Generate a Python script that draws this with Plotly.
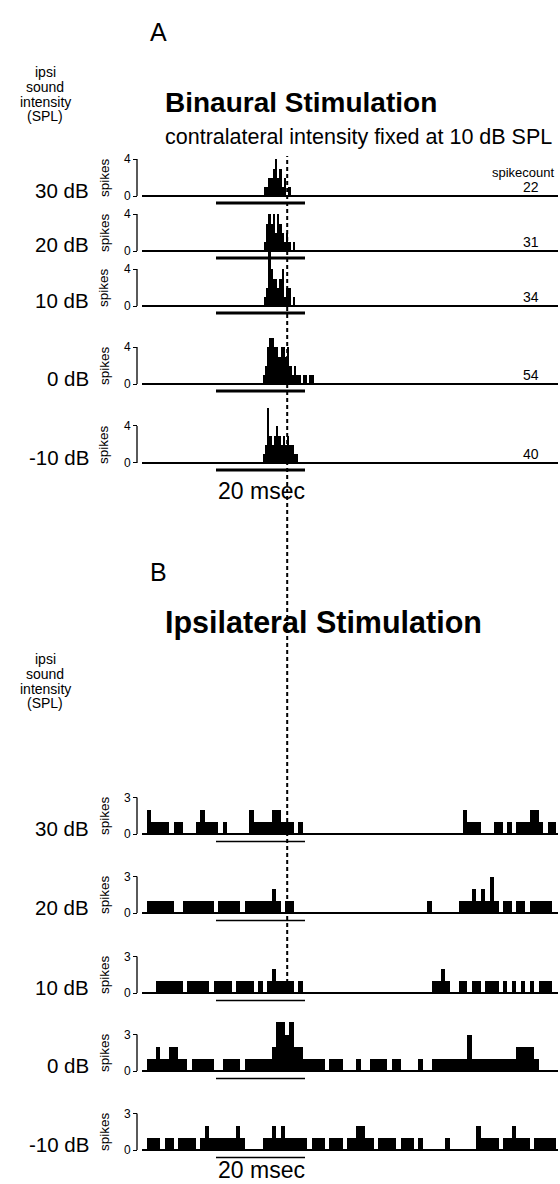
import plotly.graph_objects as go

# ---------------- data ----------------
# Panel A: binaural stimulation, PSTH with 0.5 ms bins
A_LEVELS = ["30 dB", "20 dB", "10 dB", "0 dB", "-10 dB"]
A_SPIKECOUNTS = [22, 31, 34, 54, 40]
A_BIN_MS = 0.5
A_FIRST_BIN_MS = [10.75, 10.75, 10.75, 10.5, 10.5]
A_30DB = [1, 1, 2, 2, 3, 4, 2, 3, 1, 2, 0, 1]
A_20DB = [1, 3, 4, 3, 4, 2, 4, 3, 2, 1, 2, 1, 0, 1]
A_10DB = [1, 2, 6, 4, 3, 3, 2, 3, 4, 1, 2, 2, 0, 1]
A_0DB = [1, 2, 4, 5, 5, 4, 4, 3, 4, 4, 3, 4, 2, 1, 2, 1, 1, 0, 1, 1, 0, 1, 1]
A_M10DB = [1, 2, 6, 3, 2, 3, 4, 3, 2, 3, 2, 3, 2, 2, 1, 1]
A_YTICKS = [0, 4]

# Panel B: ipsilateral stimulation, PSTH with 1 ms bins
B_LEVELS = ["30 dB", "20 dB", "10 dB", "0 dB", "-10 dB"]
B_BIN_MS = 1.0
B_FIRST_BIN_MS = -15.5
B_30DB = [2, 1, 1, 1, 1, 0, 1, 1, 0, 0,
          0, 1, 2, 1, 1, 1, 0, 1, 0, 0,
          0, 0, 0, 2, 1, 1, 1, 1, 2, 2,
          1, 1, 1, 0, 1, 0, 0, 0, 0, 0,
          0, 0, 0, 0, 0, 0, 0, 0, 0, 0,
          0, 0, 0, 0, 0, 0, 0, 0, 0, 0,
          0, 0, 0, 0, 0, 0, 0, 0, 0, 0,
          0, 2, 1, 1, 1, 0, 0, 0, 1, 1,
          0, 1, 0, 1, 1, 1, 2, 2, 1, 0,
          1, 1]
B_20DB = [1, 1, 1, 1, 1, 1, 0, 0, 1, 1,
          1, 1, 1, 1, 1, 0, 1, 1, 1, 1,
          1, 0, 1, 1, 1, 1, 1, 1, 2, 1,
          0, 1, 1, 0, 0, 0, 0, 0, 0, 0,
          0, 0, 0, 0, 0, 0, 0, 0, 0, 0,
          0, 0, 0, 0, 0, 0, 0, 0, 0, 0,
          0, 0, 0, 1, 0, 0, 0, 0, 0, 0,
          1, 1, 1, 2, 1, 2, 1, 3, 1, 0,
          1, 1, 0, 1, 1, 0, 1, 1, 1, 1,
          1, 0]
B_10DB = [0, 0, 1, 1, 1, 1, 1, 1, 0, 1,
          1, 1, 1, 1, 0, 1, 1, 1, 1, 0,
          1, 1, 1, 1, 0, 1, 0, 1, 2, 1,
          1, 1, 1, 0, 1, 0, 0, 0, 0, 0,
          0, 0, 0, 0, 0, 0, 0, 0, 0, 0,
          0, 0, 0, 0, 0, 0, 0, 0, 0, 0,
          0, 0, 0, 0, 1, 1, 2, 1, 0, 0,
          1, 1, 0, 1, 1, 0, 1, 1, 1, 0,
          1, 0, 1, 0, 1, 0, 1, 0, 1, 1,
          1, 0]
B_0DB = [1, 1, 2, 1, 1, 2, 2, 1, 1, 0,
         1, 1, 1, 1, 1, 0, 0, 1, 1, 1,
         1, 0, 1, 1, 1, 1, 1, 1, 2, 4,
         4, 3, 4, 2, 2, 1, 1, 1, 1, 1,
         0, 1, 1, 1, 0, 0, 0, 1, 0, 0,
         1, 1, 1, 1, 0, 1, 1, 0, 0, 0,
         0, 1, 0, 0, 1, 1, 1, 1, 1, 1,
         1, 1, 3, 1, 1, 1, 1, 1, 1, 1,
         1, 1, 1, 2, 2, 2, 2, 1, 0, 0,
         0, 0]
B_M10DB = [1, 1, 1, 0, 1, 1, 0, 1, 1, 1,
           1, 0, 1, 2, 1, 1, 1, 1, 1, 1,
           2, 1, 0, 0, 0, 0, 1, 1, 2, 1,
           2, 1, 1, 1, 1, 1, 0, 1, 1, 1,
           0, 1, 1, 1, 0, 1, 1, 2, 2, 1,
           1, 0, 1, 1, 1, 1, 0, 1, 1, 1,
           0, 1, 0, 0, 0, 0, 0, 1, 0, 0,
           0, 0, 0, 0, 2, 1, 1, 1, 1, 0,
           1, 1, 2, 1, 1, 1, 0, 1, 1, 1,
           1, 1]
B_YTICKS = [0, 3]

STIMULUS_MS = [0, 20]       # stimulus bar / 20 msec scale bar
REFERENCE_LATENCY_MS = 16   # dashed vertical line

# ---------------- layout helpers ----------------
W, H = 560, 1184
FONT = "Liberation Sans, Arial, sans-serif"
X0_PX, PX_PER_MS = 216.0, 4.45
XDOM_PX = (142, 558)
YAX_PX = 137


def fx(p):
    return p / W


def fy(p):
    return 1 - p / H


t_lo = (XDOM_PX[0] - X0_PX) / PX_PER_MS
t_hi = (XDOM_PX[1] - X0_PX) / PX_PER_MS

rows = []
A_SERIES = [A_30DB, A_20DB, A_10DB, A_0DB, A_M10DB]
A_BASE_PX = [196, 251, 306, 384, 463]
for i in range(5):
    rows.append(dict(panel="A", vals=A_SERIES[i], start=A_FIRST_BIN_MS[i], bw=A_BIN_MS,
                     base=A_BASE_PX[i], unit=9.25, top=7.5, ticks=A_YTICKS,
                     label=A_LEVELS[i], count=A_SPIKECOUNTS[i],
                     zw=2.2, stimw=3, stimoff=7))
B_SERIES = [B_30DB, B_20DB, B_10DB, B_0DB, B_M10DB]
B_BASE_PX = [834, 913, 993, 1071, 1150]
for i in range(5):
    rows.append(dict(panel="B", vals=B_SERIES[i], start=B_FIRST_BIN_MS, bw=B_BIN_MS,
                     base=B_BASE_PX[i], unit=12.2, top=4.6, ticks=B_YTICKS,
                     label=B_LEVELS[i], count=None,
                     zw=1.6, stimw=1.6, stimoff=7.5))

fig = go.Figure()
layout = dict(width=W, height=H, margin=dict(l=0, r=0, t=0, b=0),
              paper_bgcolor="white", plot_bgcolor="rgba(0,0,0,0)",
              showlegend=False, font=dict(family=FONT, color="black"),
              bargap=0)
annotations = []
shapes = []
PAD = 14

for n, r in enumerate(rows, start=1):
    xa = "x" if n == 1 else f"x{n}"
    ya = "y" if n == 1 else f"y{n}"
    xkey = "xaxis" if n == 1 else f"xaxis{n}"
    ykey = "yaxis" if n == 1 else f"yaxis{n}"
    u = r["unit"]
    layout[xkey] = dict(domain=[fx(XDOM_PX[0]), fx(XDOM_PX[1])], range=[t_lo, t_hi],
                        visible=False, anchor=ya, fixedrange=True)
    layout[ykey] = dict(domain=[fy(r["base"] + PAD), fy(r["base"] - r["top"] * u)],
                        range=[-PAD / u, r["top"]], anchor="free", position=fx(YAX_PX),
                        tickvals=r["ticks"], ticks="outside", ticklen=4, tickwidth=1.2,
                        tickcolor="black", showgrid=False, showline=False,
                        zeroline=True, zerolinecolor="black", zerolinewidth=r["zw"],
                        tickfont=dict(family=FONT, size=12, color="black"),
                        fixedrange=True)
    centers = [r["start"] + (k + 0.5) * r["bw"] for k in range(len(r["vals"]))]
    fig.add_trace(go.Bar(x=centers, y=r["vals"], width=r["bw"],
                         marker=dict(color="black", line=dict(width=0)),
                         xaxis=xa, yaxis=ya, hoverinfo="skip"))
    # stimulus bar
    yoff = -r["stimoff"] / u
    fig.add_trace(go.Scatter(x=STIMULUS_MS, y=[yoff, yoff], mode="lines",
                             line=dict(color="black", width=r["stimw"]),
                             xaxis=xa, yaxis=ya, hoverinfo="skip"))
    # y-axis spine
    shapes.append(dict(type="line", xref="paper", yref=ya, x0=fx(YAX_PX), x1=fx(YAX_PX),
                       y0=r["ticks"][0], y1=r["ticks"][1],
                       line=dict(color="black", width=1.3)))
    # labels
    annotations.append(dict(text=r["label"], x=fx(91), y=fy(r["base"] - 6), xref="paper",
                            yref="paper", xanchor="right", yanchor="middle",
                            showarrow=False, font=dict(size=20.5)))
    annotations.append(dict(text="spikes", x=fx(104), y=fy(r["base"] - 18), xref="paper",
                            yref="paper", xanchor="center", yanchor="middle",
                            textangle=-90, showarrow=False, font=dict(size=13.5)))
    if r["count"] is not None:
        annotations.append(dict(text=str(r["count"]), x=fx(531), y=fy(r["base"] - 9),
                                xref="paper", yref="paper", xanchor="center",
                                yanchor="middle", showarrow=False, font=dict(size=14)))

# dashed latency line across both panels
shapes.append(dict(type="line", xref="x", yref="paper", x0=REFERENCE_LATENCY_MS,
                   x1=REFERENCE_LATENCY_MS, y0=fy(983), y1=fy(156),
                   line=dict(color="black", width=2, dash="4px,3px")))


def txt(text, x, y, size, xanchor="left", bold=False):
    annotations.append(dict(text=f"<b>{text}</b>" if bold else text, x=fx(x), y=fy(y),
                            xref="paper", yref="paper", xanchor=xanchor,
                            yanchor="middle", showarrow=False, font=dict(size=size)))


txt("A", 148, 32, 25)
txt("Binaural Stimulation", 163, 102, 28, bold=True)
txt("contralateral intensity fixed at 10 dB SPL", 163, 137, 21.5)
txt("spikecount", 557, 172, 13, xanchor="right")
txt("20 msec", 261, 491, 23, xanchor="center")
txt("B", 148, 572, 25)
txt("Ipsilateral Stimulation", 163, 622, 30.5, bold=True)
txt("20 msec", 261, 1170, 23, xanchor="center")
for y0 in (72, 659):
    for j, w in enumerate(["ipsi", "sound", "intensity", "(SPL)"]):
        txt(w, 45, y0 + 14.8 * j, 14, xanchor="center")

layout["annotations"] = annotations
layout["shapes"] = shapes
fig.update_layout(**layout)
fig.write_html("out.html", config={"displayModeBar": False},
               post_script="document.body.style.margin='0';document.body.style.overflow='hidden';")
